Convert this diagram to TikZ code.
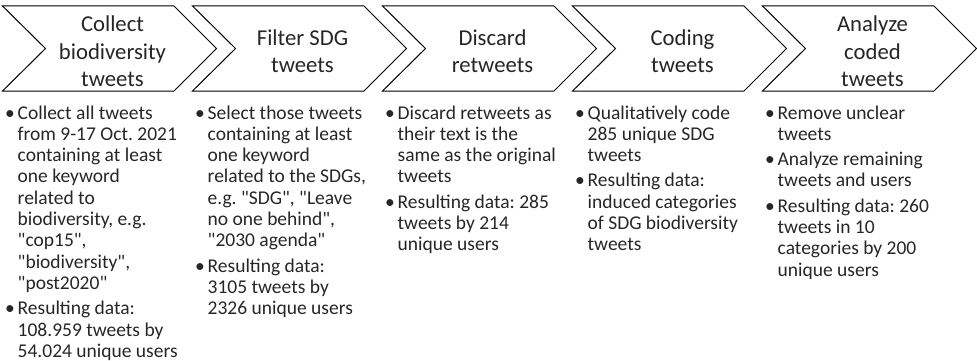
\documentclass[tikz,border=0pt]{standalone}
\usepackage{fontspec}
\setmainfont{Carlito}[Ligatures=TeXOff]
\frenchspacing
\tikzset{
  chev/.style={draw=black, line width=1pt, line join=miter, fill=white},
  title/.style={align=center, inner sep=0pt, font=\fontsize{22.7}{27.3}\selectfont\frenchspacing, text=black!85},
  body/.style={inner sep=0pt, anchor=base west, font=\fontsize{19.5}{21.3}\selectfont\frenchspacing, text=black!85},
}
\newcommand\bl{\makebox[15pt][l]{\hspace{2.5pt}\textbullet}}
\newcommand\chevron[1]{%
  \draw[chev] (#1,6) -- ++(171.5,0) -- ++(42.5,42.5) -- ++(-42.5,42.5) -- ++(-171.5,0) -- ++(43,-42.5) -- cycle;}
\begin{document}
\begin{tikzpicture}[x=1pt,y=-1pt]
\useasboundingbox (0,0) rectangle (977,361);
\chevron{2.5}
\chevron{192.5}
\chevron{382.5}
\chevron{572.5}
\chevron{762.5}
\node[title] (t1) at (112.5,51.5) {Collect\\biodiversity\\tweets};
\node[title] (t2) at (302.5,51) {Filter SDG\\tweets};
\node[title] (t3) at (492.5,51) {Discard\\retweets};
\node[title] (t4) at (682.5,51) {Coding\\tweets};
\node[title] (t5) at (872.5,51.5) {Analyze\\coded\\tweets};
\node[body] (b1) at (2.5,119) {\begin{tabular}[t]{@{}l@{}l@{}}
\bl & Collect all tweets\\
 & from 9-17 Oct. 2021\\
 & containing at least\\
 & one keyword\\
 & related to\\
 & biodiversity, e.g.\\
 & "cop15",\\
 & "biodiversity",\\
 & "post2020"\\[4pt]
\bl & Resulting data:\\
 & 108.959 tweets by\\
 & 54.024 unique users
\end{tabular}};
\node[body] (b2) at (192.5,119) {\begin{tabular}[t]{@{}l@{}l@{}}
\bl & Select those tweets\\
 & containing at least\\
 & one keyword\\
 & related to the SDGs,\\
 & e.g. "SDG", "Leave\\
 & no one behind",\\
 & "2030 agenda"\\[4pt]
\bl & Resulting data:\\
 & 3105 tweets by\\
 & 2326 unique users
\end{tabular}};
\node[body] (b3) at (382.5,119) {\begin{tabular}[t]{@{}l@{}l@{}}
\bl & Discard retweets as\\
 & their text is the\\
 & same as the original\\
 & tweets\\[4pt]
\bl & Resulting data: 285\\
 & tweets by 214\\
 & unique users
\end{tabular}};
\node[body] (b4) at (572.5,119) {\begin{tabular}[t]{@{}l@{}l@{}}
\bl & Qualitatively code\\
 & 285 unique SDG\\
 & tweets\\[4pt]
\bl & Resulting data:\\
 & induced categories\\
 & of SDG biodiversity\\
 & tweets
\end{tabular}};
\node[body] (b5) at (762.5,119) {\begin{tabular}[t]{@{}l@{}l@{}}
\bl & Remove unclear\\
 & tweets\\[4pt]
\bl & Analyze remaining\\
 & tweets and users\\[4pt]
\bl & Resulting data: 260\\
 & tweets in 10\\
 & categories by 200\\
 & unique users
\end{tabular}};
\end{tikzpicture}
\end{document}
